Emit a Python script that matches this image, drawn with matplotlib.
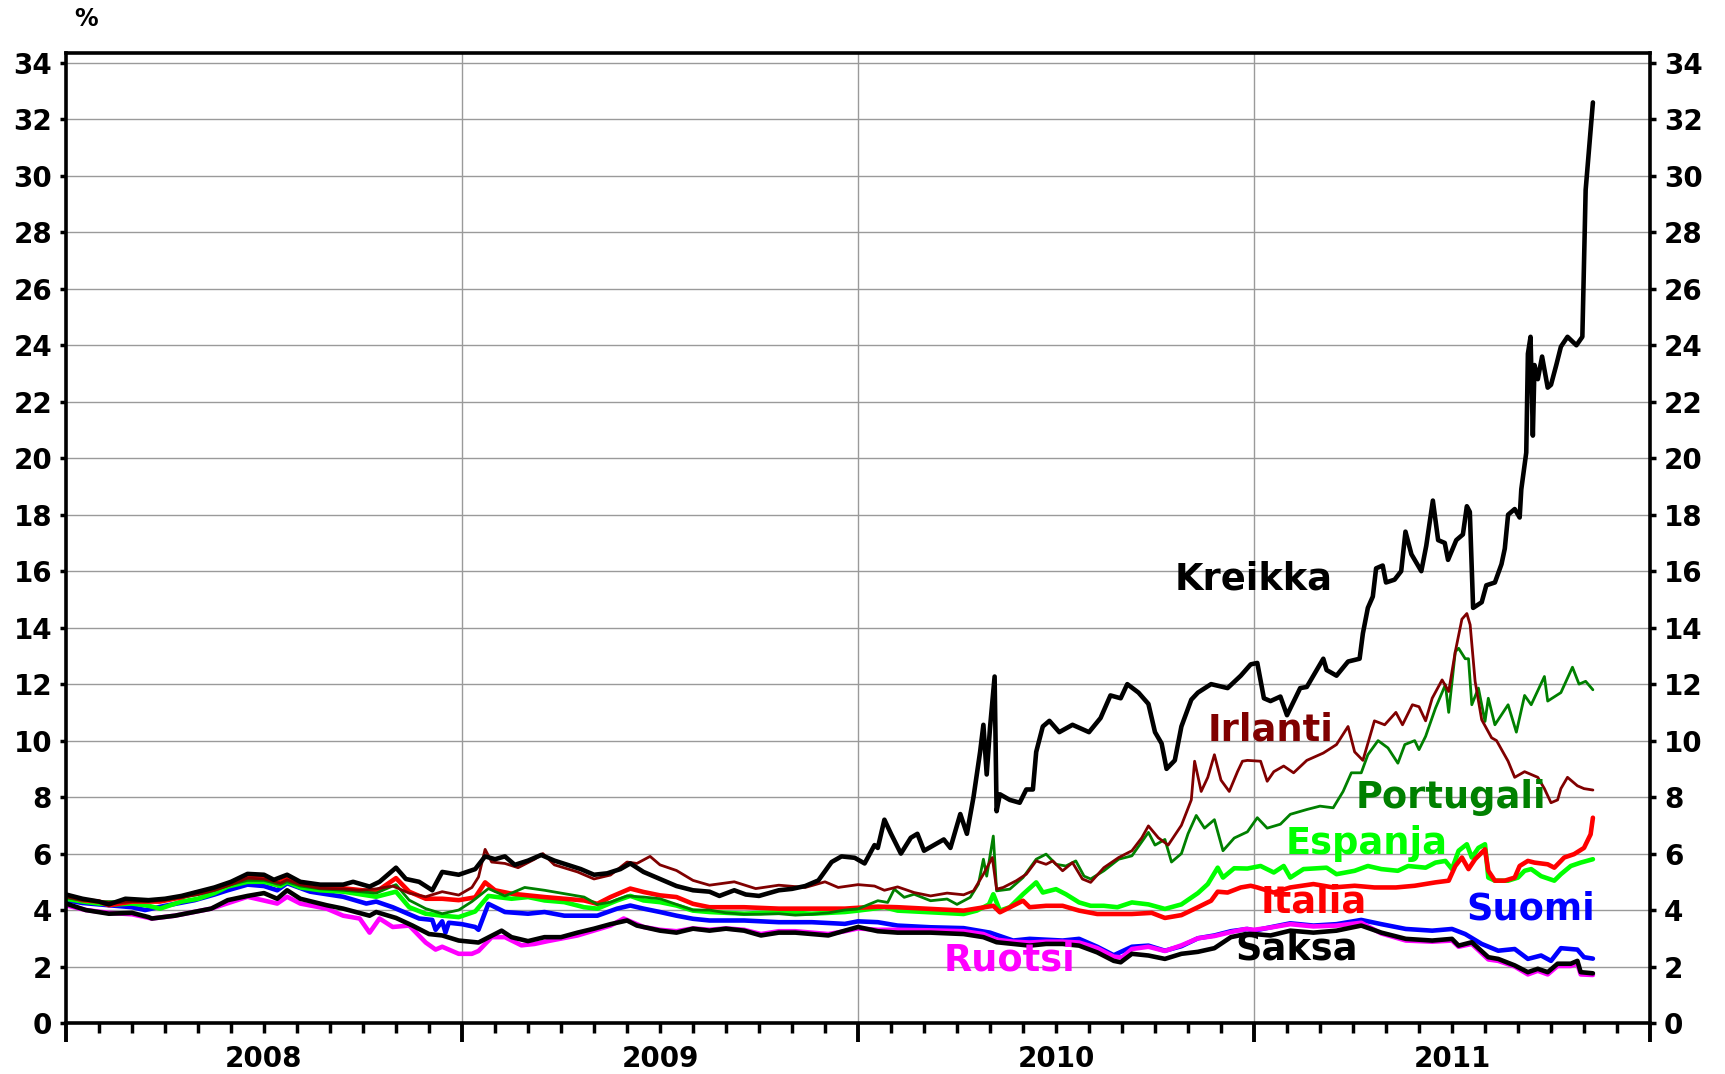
import numpy as np
import matplotlib
matplotlib.use("Agg")
import matplotlib.pyplot as plt
from matplotlib.ticker import MultipleLocator

# ---- data: x = months since 1 Jan 2008, y = 10y government bond yield (%) ----
kreikka_t = [0, 0.5, 1.0, 1.3, 1.8, 2.5, 3.0, 3.5, 4.0, 4.5, 5.0, 5.5, 6.0, 6.3, 6.7, 7.1, 7.7, 8.4, 8.7, 9.2,
             9.5, 10.0, 10.3, 10.7, 11.1, 11.4, 11.9, 12.4, 12.7, 13.0, 13.3, 13.6, 14.0, 14.4, 14.8, 15.2, 15.6,
             16.0, 16.4, 16.8, 17.1, 17.5, 18.0, 18.5, 19.0, 19.5, 19.8, 20.25, 20.6, 21.0, 21.6, 22.0, 22.4, 22.8,
             23.2, 23.5, 23.9, 24.2, 24.5, 24.6, 24.8, 25.0, 25.3, 25.6, 25.8, 26.0, 26.3, 26.6, 26.8, 27.1, 27.3,
             27.5, 27.7, 27.8, 27.9, 28.0, 28.14, 28.2, 28.3, 28.6, 28.9, 29.1, 29.3, 29.4, 29.6, 29.8, 30.1, 30.5,
             31.0, 31.35, 31.65, 31.96, 32.16, 32.5, 32.8, 33.0, 33.2, 33.35, 33.6, 33.8, 34.1, 34.3, 34.7, 35.2,
             35.6, 35.9, 36.1, 36.3, 36.5, 36.8, 37.0, 37.4, 37.6, 38.1, 38.2, 38.5, 38.85, 39.2, 39.3, 39.45, 39.6,
             39.7, 39.9, 40.0, 40.26, 40.46, 40.59, 40.77, 41.07, 41.22, 41.42, 41.58, 41.78, 41.88, 42.13, 42.33,
             42.45, 42.54, 42.64, 42.9, 43.04, 43.3, 43.5, 43.6, 43.7, 43.9, 44.05, 44.1, 44.25, 44.3, 44.38, 44.45,
             44.5, 44.6, 44.73, 44.9, 45.0, 45.16, 45.3, 45.5, 45.77, 45.95, 46.05, 46.27]
kreikka_v = [4.55, 4.4, 4.3, 4.2, 4.4, 4.35, 4.4, 4.5, 4.65, 4.8, 5.0, 5.28, 5.25, 5.07, 5.25, 5.0, 4.9, 4.9, 5.0, 4.83,
             5.0, 5.5, 5.1, 5.0, 4.7, 5.35, 5.25, 5.45, 5.9, 5.8, 5.9, 5.6, 5.75, 5.95, 5.75, 5.6, 5.45,
             5.25, 5.3, 5.45, 5.65, 5.35, 5.1, 4.85, 4.7, 4.65, 4.5, 4.7, 4.55, 4.5, 4.7, 4.75, 4.85, 5.05,
             5.7, 5.9, 5.85, 5.65, 6.3, 6.2, 7.2, 6.7, 6.0, 6.56, 6.7, 6.1, 6.3, 6.5, 6.2, 7.4, 6.7,
             8.0, 9.6, 10.56, 8.8, 10.45, 12.27, 7.5, 8.1, 7.9, 7.8, 8.27, 8.27, 9.6, 10.5, 10.7, 10.3, 10.56,
             10.3, 10.8, 11.6, 11.5, 12.0, 11.7, 11.3, 10.3, 9.9, 9.0, 9.3, 10.5, 11.45, 11.7, 12.0, 11.86,
             12.3, 12.7, 12.75, 11.5, 11.4, 11.56, 10.9, 11.86, 11.9, 12.9, 12.5, 12.3, 12.8, 12.9, 13.8, 14.7, 15.1,
             16.1, 16.2, 15.6, 15.7, 16.0, 17.4, 16.6, 16.0, 16.9, 18.5, 17.1, 17.0, 16.4, 17.1, 17.3,
             18.3, 18.1, 14.7, 14.9, 15.5, 15.6, 16.25, 16.8, 18.0, 18.2, 17.9, 18.9, 20.2, 23.7, 24.3, 20.8,
             23.3, 22.8, 23.6, 22.5, 22.6, 23.3, 23.95, 24.3, 24.0, 24.3, 29.5, 32.6]

irlanti_t = [0, 0.5, 1, 1.5, 2, 2.5, 3, 3.5, 4, 4.5, 5, 5.5, 6, 6.5, 6.7, 7.1, 7.7, 8.4, 8.9, 9.4, 9.9, 10.4, 10.9,
             11.4, 11.9, 12.3, 12.5, 12.7, 12.9, 13.3, 13.7, 14.2, 14.45, 14.8, 15.5, 16.0, 16.5, 17.0, 17.3, 17.7,
             18.0, 18.5, 19.0, 19.5, 20.25, 20.9, 21.6, 22.4, 23.0, 23.4, 24.0, 24.5, 24.8, 25.2, 25.7, 26.2, 26.7,
             27.2, 27.5, 27.8, 28.07, 28.2, 28.4, 28.8, 29.1, 29.4, 29.7, 29.9, 30.2, 30.5, 30.8, 31.05, 31.45,
             31.9, 32.3, 32.6, 32.8, 33.1, 33.4, 33.8, 34.1, 34.2, 34.4, 34.6, 34.8, 35.0, 35.25, 35.5, 35.65, 35.8,
             36.2, 36.4, 36.6, 36.9, 37.2, 37.6, 38.1, 38.5, 38.85, 39.05, 39.3, 39.65, 39.96, 40.3, 40.5, 40.8,
             41.0, 41.2, 41.4, 41.7, 41.9, 42.1, 42.3, 42.45, 42.55, 42.7, 42.9, 43.2, 43.35, 43.7, 43.9, 44.2,
             44.6, 44.8, 45.0, 45.2, 45.3, 45.5, 45.8, 46.0, 46.27]
irlanti_v = [4.47, 4.35, 4.3, 4.25, 4.3, 4.3, 4.35, 4.45, 4.55, 4.7, 4.9, 5.13, 5.1, 4.95, 5.07, 4.9, 4.77, 4.75, 4.7,
             4.75, 4.85, 4.6, 4.47, 4.65, 4.53, 4.8, 5.17, 6.15, 5.7, 5.65, 5.5, 5.8, 6.0, 5.6, 5.35, 5.1, 5.24,
             5.7, 5.65, 5.9, 5.6, 5.4, 5.05, 4.88, 5.0, 4.76, 4.88, 4.8, 5.0, 4.8, 4.9, 4.85, 4.7, 4.82, 4.62,
             4.5, 4.6, 4.54, 4.68, 5.27, 5.86, 4.74, 4.8, 5.04, 5.27, 5.74, 5.62, 5.74, 5.39, 5.68, 5.1, 4.98, 5.5,
             5.86, 6.1, 6.56, 6.98, 6.56, 6.3, 7.0, 7.9, 9.27, 8.2, 8.7, 9.5, 8.6, 8.2, 8.9, 9.27, 9.3,
             9.27, 8.56, 8.9, 9.1, 8.86, 9.3, 9.56, 9.86, 10.5, 9.6, 9.3, 10.7, 10.56, 11.0, 10.56, 11.27,
             11.2, 10.7, 11.5, 12.15, 11.74, 13.15, 14.3, 14.5, 14.1, 12.1, 10.74, 10.1, 10.0, 9.27, 8.7, 8.9,
             8.7, 8.3, 7.8, 7.9, 8.3, 8.7, 8.4, 8.3, 8.25]

portugali_t = [0, 0.5, 1, 1.5, 2, 2.5, 3, 3.5, 4, 4.5, 5, 5.5, 6, 6.5, 6.7, 7.1, 7.7, 8.4, 8.9, 9.4, 10.0, 10.4,
               10.9, 11.4, 11.9, 12.3, 12.8, 13.3, 13.9, 14.5, 15.1, 15.7, 16.1, 16.5, 17.0, 17.5, 18.0, 18.5,
               19.0, 19.5, 20.0, 20.55, 21.06, 21.6, 22.1, 22.6, 23.1, 23.6, 24.0, 24.6, 24.9, 25.1, 25.4, 25.7,
               26.2, 26.7, 27.0, 27.4, 27.65, 27.8, 27.9, 28.1, 28.2, 28.6, 29.0, 29.4, 29.7, 30.0, 30.3, 30.6,
               30.85, 31.05, 31.45, 31.9, 32.3, 32.8, 33.0, 33.3, 33.5, 33.8, 34.0, 34.25, 34.5, 34.8, 35.06,
               35.4, 35.8, 36.1, 36.4, 36.8, 37.1, 37.6, 38.0, 38.4, 38.7, 38.95, 39.25, 39.45, 39.76, 40.06,
               40.36, 40.57, 40.87, 41.0, 41.2, 41.5, 41.8, 41.9, 42.1, 42.2, 42.4, 42.5, 42.6, 42.8, 43.0, 43.1,
               43.3, 43.7, 43.95, 44.2, 44.4, 44.8, 44.9, 45.3, 45.65, 45.85, 46.05, 46.27]
portugali_v = [4.43, 4.35, 4.3, 4.3, 4.35, 4.35, 4.4, 4.45, 4.55, 4.7, 4.9, 5.05, 5.05, 4.9, 5.0, 4.85, 4.75, 4.7,
               4.65, 4.6, 4.9, 4.35, 4.05, 3.87, 4.0, 4.3, 4.76, 4.5, 4.8, 4.7, 4.58, 4.46, 4.2, 4.28, 4.5, 4.46,
               4.4, 4.2, 4.0, 4.0, 3.9, 3.85, 3.85, 3.87, 3.82, 3.85, 3.9, 4.0, 4.04, 4.33, 4.27, 4.74, 4.45, 4.56,
               4.33, 4.39, 4.2, 4.45, 4.92, 5.8, 5.2, 6.62, 4.68, 4.74, 5.15, 5.8, 5.98, 5.62, 5.56, 5.74,
               5.2, 5.1, 5.39, 5.8, 5.92, 6.75, 6.3, 6.5, 5.7, 6.0, 6.7, 7.35, 6.9, 7.2, 6.1,
               6.55, 6.77, 7.27, 6.9, 7.04, 7.39, 7.56, 7.68, 7.62, 8.2, 8.86, 8.86, 9.5, 10.0, 9.74,
               9.2, 9.86, 10.0, 9.68, 10.15, 11.15, 11.98, 11.0, 13.15, 13.27, 12.9, 12.9, 11.27, 11.86, 10.68,
               11.5, 10.56, 11.27, 10.3, 11.6, 11.27, 12.27, 11.4, 11.7, 12.6, 12.0, 12.1, 11.8]

espanja_t = [0, 0.5, 1, 1.5, 2, 2.5, 2.85, 3.5, 4, 4.5, 4.9, 5.5, 6.0, 6.5, 6.7, 7.1, 7.7, 8.4, 9.4, 10.0, 10.4,
             10.9, 11.4, 11.9, 12.4, 12.8, 13.5, 14.0, 14.5, 15.1, 15.7, 16.1, 16.7, 17.1, 17.5, 18.0, 18.5, 19.0,
             19.5, 20.55, 21.6, 22.6, 23.6, 24.0, 24.8, 25.2, 26.2, 27.2, 27.6, 27.97, 28.1, 28.3, 28.6, 29.0,
             29.4, 29.6, 30.0, 30.3, 30.7, 31.05, 31.45, 31.86, 32.3, 32.8, 33.3, 33.8, 34.3, 34.6, 34.9, 35.06,
             35.4, 35.8, 36.2, 36.6, 36.9, 37.1, 37.5, 38.2, 38.5, 39.05, 39.45, 39.86, 40.36, 40.67, 41.2, 41.5,
             41.8, 42.0, 42.2, 42.45, 42.6, 42.8, 43.0, 43.1, 43.3, 43.7, 44.0, 44.2, 44.4, 44.7, 45.1, 45.3,
             45.6, 45.9, 46.27]
espanja_v = [4.4, 4.3, 4.23, 4.2, 4.23, 4.15, 4.05, 4.3, 4.4, 4.6, 4.83, 5.0, 5.0, 4.85, 5.0, 4.8, 4.7, 4.65, 4.47,
             4.65, 4.1, 3.87, 3.8, 3.75, 3.95, 4.5, 4.4, 4.46, 4.34, 4.28, 4.1, 4.05, 4.34, 4.5, 4.34, 4.28, 4.16,
             3.98, 3.93, 3.87, 3.93, 3.87, 3.93, 3.98, 4.1, 3.98, 3.92, 3.86, 3.98, 4.2, 4.56, 3.98, 4.1, 4.56,
             4.98, 4.62, 4.74, 4.56, 4.27, 4.15, 4.15, 4.1, 4.27, 4.2, 4.04, 4.2, 4.6, 4.92, 5.5, 5.15,
             5.48, 5.47, 5.56, 5.33, 5.56, 5.15, 5.45, 5.5, 5.27, 5.39, 5.56, 5.45, 5.39, 5.56, 5.5, 5.68,
             5.74, 5.45, 6.1, 6.33, 5.86, 6.2, 6.33, 5.15, 5.04, 5.04, 5.15, 5.39, 5.45, 5.2, 5.04, 5.27,
             5.56, 5.68, 5.8]

italia_t = [0, 0.5, 1, 1.3, 2, 2.85, 3.5, 3.9, 4.5, 4.9, 5.5, 6.0, 6.4, 6.7, 7.4, 8.4, 9.4, 10.0, 10.4, 10.9,
            11.4, 11.9, 12.4, 12.7, 13.0, 13.5, 14.0, 14.5, 15.1, 15.7, 16.1, 16.5, 17.1, 17.5, 18.0, 18.5, 19.0,
            19.5, 20.55, 21.6, 22.6, 23.6, 24.0, 24.6, 25.2, 26.2, 27.2, 28.1, 28.3, 29.0, 29.2, 29.7, 30.2, 30.7,
            31.25, 32.3, 32.9, 33.3, 33.8, 34.3, 34.7, 34.9, 35.2, 35.6, 35.9, 36.1, 36.6, 37.1, 37.8, 38.4, 39.05,
            39.65, 40.3, 40.87, 41.5, 41.9, 42.1, 42.3, 42.5, 42.7, 43.0, 43.1, 43.3, 43.6, 43.9, 44.05, 44.3,
            44.5, 44.9, 45.1, 45.4, 45.7, 46.0, 46.2, 46.27]
italia_v = [4.5, 4.35, 4.3, 4.17, 4.3, 4.3, 4.45, 4.6, 4.75, 4.9, 5.13, 5.13, 4.95, 5.1, 4.9, 4.77, 4.65, 5.13, 4.65,
            4.4, 4.4, 4.35, 4.45, 4.98, 4.7, 4.58, 4.52, 4.46, 4.4, 4.34, 4.22, 4.46, 4.76, 4.64, 4.52, 4.46, 4.22,
            4.1, 4.1, 4.05, 4.05, 4.05, 4.08, 4.12, 4.1, 4.04, 3.98, 4.15, 3.92, 4.33, 4.1, 4.15, 4.15, 3.98,
            3.86, 3.86, 3.9, 3.72, 3.82, 4.1, 4.33, 4.65, 4.62, 4.8, 4.86, 4.8, 4.62, 4.8, 4.92, 4.8, 4.86,
            4.8, 4.8, 4.86, 4.98, 5.04, 5.56, 5.86, 5.45, 5.8, 6.15, 5.39, 5.04, 5.04, 5.15, 5.56, 5.74,
            5.68, 5.62, 5.5, 5.86, 5.98, 6.2, 6.68, 7.27]

suomi_t = [0, 0.5, 1, 1.5, 2, 2.4, 3, 3.9, 4.5, 4.9, 5.5, 6.0, 6.4, 6.7, 7.4, 8.4, 9.1, 9.4, 9.9, 10.7, 11.1,
           11.2, 11.4, 11.5, 11.6, 12.0, 12.4, 12.5, 12.8, 13.3, 14.0, 14.5, 15.1, 15.7, 16.1, 16.7, 17.1, 17.5,
           18.0, 18.5, 19.0, 19.5, 20.55, 21.6, 22.6, 23.6, 24.0, 24.6, 25.2, 26.2, 27.2, 28.0, 28.7, 29.2, 30.2,
           30.7, 31.25, 31.75, 32.3, 32.8, 33.3, 33.8, 34.3, 34.8, 35.3, 35.8, 36.0, 36.5, 37.1, 37.8, 38.5,
           39.25, 39.86, 40.6, 41.4, 42.0, 42.4, 42.9, 43.4, 43.9, 44.3, 44.7, 45.0, 45.3, 45.8, 46.0, 46.27]
suomi_v = [4.35, 4.25, 4.2, 4.15, 4.1, 4.0, 4.15, 4.35, 4.55, 4.7, 4.9, 4.85, 4.7, 4.95, 4.65, 4.47, 4.23, 4.3,
           4.1, 3.7, 3.65, 3.3, 3.6, 3.2, 3.55, 3.5, 3.4, 3.3, 4.22, 3.93, 3.87, 3.93, 3.8, 3.8, 3.8, 4.05, 4.16,
           4.05, 3.93, 3.8, 3.69, 3.63, 3.63, 3.57, 3.57, 3.51, 3.6, 3.57, 3.45, 3.39, 3.36, 3.2, 2.92, 2.98,
           2.92, 2.98, 2.7, 2.4, 2.7, 2.74, 2.56, 2.72, 3.0, 3.1, 3.25, 3.33, 3.27, 3.39, 3.53, 3.45, 3.5,
           3.65, 3.5, 3.33, 3.27, 3.33, 3.15, 2.8, 2.56, 2.62, 2.27, 2.39, 2.2, 2.65, 2.6, 2.33, 2.28]

saksa_t = [0, 0.6, 1.3, 2.0, 2.5, 2.6, 3.3, 4.4, 4.9, 5.5, 6.0, 6.4, 6.7, 7.1, 7.9, 8.4, 9.2, 9.4, 10.0, 10.5,
           11.0, 11.4, 11.9, 12.5, 13.0, 13.2, 13.5, 14.0, 14.5, 15.0, 15.5, 16.0, 16.5, 17.0, 17.3, 17.5, 18.0,
           18.5, 19.0, 19.5, 20.0, 20.55, 21.06, 21.6, 22.1, 22.6, 23.1, 23.6, 24.0, 24.6, 25.2, 26.2, 27.2, 27.8,
           28.2, 28.7, 29.2, 29.7, 30.2, 30.7, 31.25, 31.75, 31.96, 32.3, 32.8, 33.3, 33.8, 34.3, 34.8, 35.3,
           35.75, 36.0, 36.5, 37.1, 37.8, 38.5, 39.25, 39.86, 40.6, 41.4, 42.0, 42.2, 42.6, 43.1, 43.4, 43.9,
           44.3, 44.6, 44.9, 45.2, 45.6, 45.8, 45.9, 46.27]
saksa_v = [4.23, 4.0, 3.87, 3.9, 3.75, 3.7, 3.8, 4.05, 4.35, 4.5, 4.6, 4.4, 4.7, 4.4, 4.17, 4.05, 3.8, 3.93, 3.72,
           3.45, 3.15, 3.1, 2.92, 2.85, 3.15, 3.27, 3.04, 2.9, 3.04, 3.04, 3.2, 3.34, 3.5, 3.63, 3.45, 3.4, 3.27,
           3.2, 3.34, 3.27, 3.34, 3.27, 3.1, 3.2, 3.2, 3.15, 3.1, 3.27, 3.4, 3.25, 3.2, 3.2, 3.15, 3.04,
           2.86, 2.8, 2.74, 2.8, 2.8, 2.74, 2.5, 2.2, 2.15, 2.45, 2.39, 2.27, 2.45, 2.52, 2.65, 3.04,
           3.15, 3.15, 3.1, 3.27, 3.2, 3.27, 3.45, 3.2, 2.98, 2.92, 2.98, 2.74, 2.86, 2.33, 2.27, 2.04,
           1.8, 1.92, 1.8, 2.1, 2.1, 2.2, 1.8, 1.76]

ruotsi_t = [0, 0.6, 1.3, 2.0, 2.6, 3.3, 4.4, 5.5, 6.4, 6.7, 7.1, 7.9, 8.4, 8.9, 9.2, 9.5, 9.9, 10.4, 10.9, 11.2,
            11.4, 11.9, 12.3, 12.5, 12.9, 13.3, 13.8, 14.2, 14.6, 15.5, 16.5, 16.9, 17.5, 18.0, 18.5, 19.0, 19.5,
            20.0, 20.55, 21.06, 21.6, 22.1, 22.6, 23.1, 23.6, 24.0, 24.6, 25.2, 26.2, 27.2, 27.8, 28.2, 28.7, 29.2,
            29.7, 30.2, 30.7, 31.25, 31.75, 32.0, 32.3, 32.8, 33.3, 33.8, 34.3, 34.8, 35.3, 35.75, 36.0, 36.5,
            37.1, 37.8, 38.5, 39.25, 39.86, 40.6, 41.4, 42.0, 42.2, 42.6, 43.1, 43.4, 43.9, 44.3, 44.6, 44.9,
            45.2, 45.6, 45.8, 45.9, 46.27]
ruotsi_v = [4.17, 4.0, 3.9, 3.85, 3.7, 3.8, 4.05, 4.47, 4.23, 4.47, 4.23, 4.05, 3.8, 3.7, 3.2, 3.7, 3.4, 3.45, 2.85,
            2.6, 2.7, 2.45, 2.45, 2.55, 3.04, 3.04, 2.75, 2.8, 2.9, 3.1, 3.45, 3.7, 3.4, 3.3, 3.25, 3.35, 3.3,
            3.35, 3.3, 3.15, 3.25, 3.25, 3.2, 3.15, 3.25, 3.35, 3.3, 3.3, 3.28, 3.25, 3.15, 2.95, 2.88, 2.85,
            2.88, 2.88, 2.85, 2.65, 2.35, 2.32, 2.62, 2.7, 2.55, 2.75, 3.0, 3.08, 3.22, 3.33, 3.3, 3.38,
            3.5, 3.42, 3.45, 3.55, 3.17, 2.92, 2.88, 2.92, 2.7, 2.8, 2.25, 2.2, 2.0, 1.72, 1.85, 1.72,
            2.02, 2.02, 2.1, 1.72, 1.7]

year_labels = ["2008", "2009", "2010", "2011"]
y_ticks = list(range(0, 36, 2))

# ---- figure ----
W, H = 1725, 1074
fig = plt.figure(figsize=(W / 100, H / 100), dpi=100)
ax = fig.add_axes([66 / W, 1 - 1023 / H, (1650 - 66) / W, (1023 - 53) / H])

FONT = "DejaVu Sans"
THICK, THIN = 3.3, 2.0
series = [
    (suomi_t, suomi_v, "#0000FF", THICK),
    (ruotsi_t, ruotsi_v, "#FF00FF", THICK),
    (saksa_t, saksa_v, "#000000", THICK),
    (espanja_t, espanja_v, "#00FF00", THICK),
    (italia_t, italia_v, "#FF0000", THICK),
    (portugali_t, portugali_v, "#008000", THIN),
    (irlanti_t, irlanti_v, "#800000", THIN),
    (kreikka_t, kreikka_v, "#000000", THICK),
]
for t, v, c, lw in series:
    ax.plot(t, v, color=c, lw=lw, solid_joinstyle="round", solid_capstyle="round", zorder=3)

ax.set_xlim(0, 48)
ax.set_ylim(0, 34.35)

# grid
for yv in y_ticks[1:]:
    ax.axhline(yv, color="#9a9a9a", lw=1.0, zorder=1)
for xv in (12, 24, 36):
    ax.axvline(xv, color="#9a9a9a", lw=1.0, zorder=1)

# spines
for s in ax.spines.values():
    s.set_linewidth(2.6)
    s.set_zorder(5)

# y ticks on both sides
ax.set_yticks(y_ticks)
ax.tick_params(axis="y", which="major", direction="out", length=4, width=2.5,
               left=True, right=True, labelleft=True, labelright=True, pad=6)
for tk in ax.yaxis.get_major_ticks():
    for lab in (tk.label1, tk.label2):
        lab.set_fontweight("bold")
        lab.set_fontfamily(FONT)
        lab.set_fontsize(20)

# x ticks: months minor, years major
ax.set_xticks([0, 12, 24, 36, 48])
ax.xaxis.set_minor_locator(MultipleLocator(1))
ax.tick_params(axis="x", which="major", direction="out", length=14, width=2.8, labelbottom=False)
ax.tick_params(axis="x", which="minor", direction="out", length=7, width=2.5)
for i, yl in enumerate(year_labels):
    ax.text(6 + 12 * i, -0.037, yl, transform=ax.get_xaxis_transform(), ha="center", va="center",
            fontsize=20, fontweight="bold", family=FONT)

fig.text(86 / W, 1 - 19 / H, "%", ha="center", va="center", fontsize=17, fontweight="bold", family=FONT)

# inline series labels
labels = [
    ("Kreikka", 36.0, 15.35, "#000000"),
    ("Irlanti", 36.5, 10.02, "#800000"),
    ("Portugali", 41.97, 7.6, "#008000"),
    ("Espanja", 39.4, 5.97, "#00FF00"),
    ("Italia", 37.8, 3.9, "#FF0000"),
    ("Suomi", 44.4, 3.68, "#0000FF"),
    ("Saksa", 37.3, 2.26, "#000000"),
    ("Ruotsi", 28.6, 1.87, "#FF00FF"),
]
for txt, x, y, c in labels:
    ax.text(x, y, txt, color=c, ha="center", va="baseline", fontsize=26.5, fontweight="bold",
            family=FONT, zorder=6)

fig.savefig("out.png", dpi=100)
